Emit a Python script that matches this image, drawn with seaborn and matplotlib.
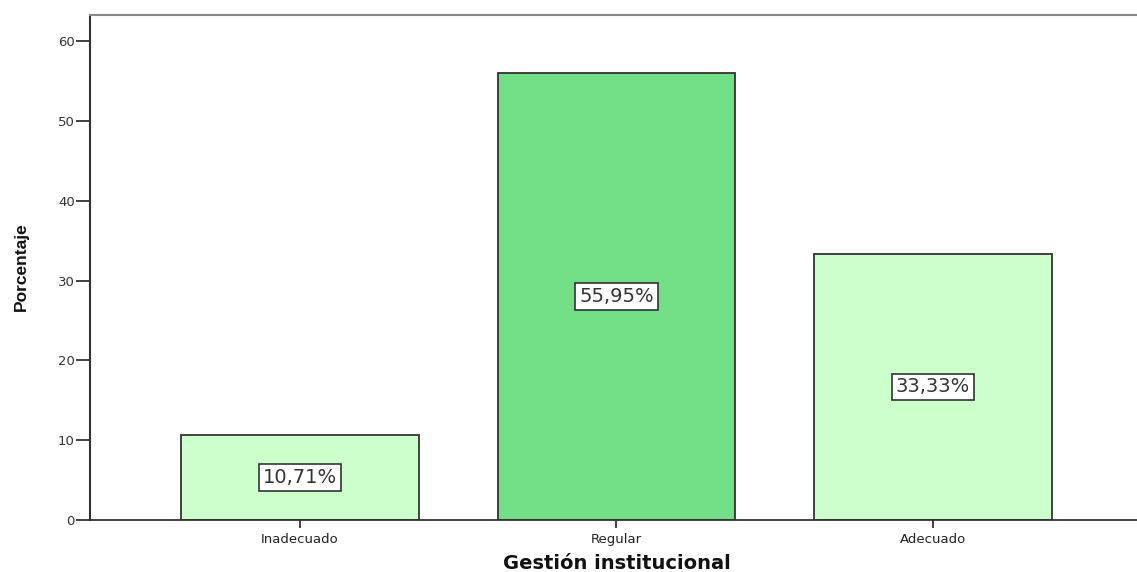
import matplotlib
matplotlib.use("Agg")
import matplotlib.pyplot as plt
import seaborn as sns
import pandas as pd

# data
categorias = ['Inadecuado', 'Regular', 'Adecuado']
porcentajes = [10.71, 55.95, 33.33]
etiquetas = ['10,71%', '55,95%', '33,33%']
colores = ['#CCFFCC', '#72DE86', '#CCFFCC']
yticks = [0, 10, 20, 30, 40, 50, 60]

sns.set_style("white")
plt.rcParams['font.family'] = ['DejaVu Sans']

df = pd.DataFrame({'cat': categorias, 'pct': porcentajes})

fig = plt.figure(figsize=(11.37, 5.72), dpi=100)
ax = fig.add_axes([0.0792, 0.0909, 0.9208, 0.8829])
sns.barplot(x='cat', y='pct', data=df, hue='cat',
            palette=dict(zip(categorias, colores)), legend=False, saturation=1,
            width=0.75, edgecolor='#333333', linewidth=1.3, ax=ax)

# etiquetas en el centro de cada barra
for i, (v, t) in enumerate(zip(porcentajes, etiquetas)):
    ax.text(i, v / 2, t, ha='center', va='center', fontsize=14, color='#333333',
            bbox=dict(boxstyle='square,pad=0.2', fc='white', ec='#333333', lw=1.2))

ax.set_xlim(-0.663, 2.645)
ax.set_ylim(0, 63.26)
ax.set_yticks(yticks)
ax.tick_params(axis='y', direction='out', length=10, width=1.3, color='#333333',
               labelsize=9.5, labelcolor='#333333', left=True, pad=1)
ax.tick_params(axis='x', direction='out', length=6, width=1.3, color='#333333',
               labelsize=9.5, labelcolor='#222222', bottom=True, pad=3)

ax.spines['right'].set_visible(False)
ax.spines['top'].set_color('#888888')
ax.spines['top'].set_linewidth(1.5)
ax.spines['left'].set_color('#333333')
ax.spines['left'].set_linewidth(1.5)
ax.spines['bottom'].set_color('#333333')
ax.spines['bottom'].set_linewidth(1.3)

ax.set_xlabel('')
ax.set_ylabel('')
fig.text(0.5427, 0.005, 'Gestión institucional', ha='center', va='baseline',
         fontsize=14, fontweight='bold', color='#111111')
fig.text(0.019, 0.533, 'Porcentaje', ha='center', va='center', rotation=90,
         fontsize=12.5, fontweight='bold', color='#111111',
         family=['Liberation Sans Narrow', 'Liberation Sans', 'DejaVu Sans'])

fig.savefig('out.png', dpi=100)
